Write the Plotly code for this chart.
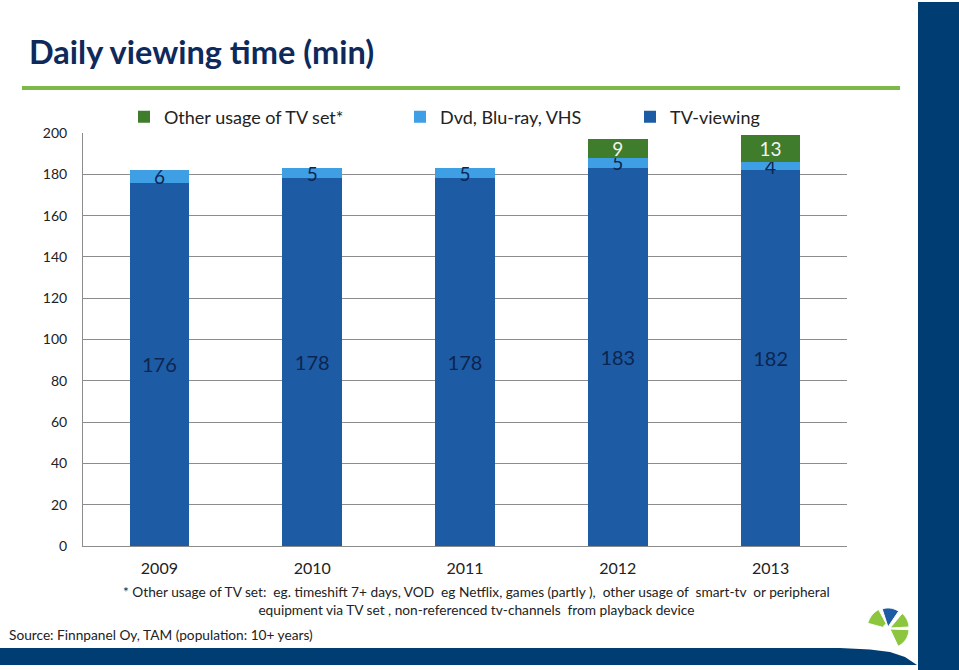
import math
import plotly.graph_objects as go

years = ["2009", "2010", "2011", "2012", "2013"]
tv_viewing = [176, 178, 178, 183, 182]
dvd = [6, 5, 5, 5, 4]
other = [0, 0, 0, 9, 13]
other_labels = ["", "", "", "9", "13"]
y_ticks = [0, 20, 40, 60, 80, 100, 120, 140, 160, 180, 200]

W, H = 959, 670
L, R, T, B = 83, 847, 133, 546
FONT = "Lato"


def px(x):
    return (x - L) / (R - L)


def py(y):
    return (B - y) / (B - T)


def poly(points):
    s = "M " + " L ".join(f"{px(x):.5f},{py(y):.5f}" for x, y in points) + " Z"
    return s


def sector(cx, cy, r0, r1, a0, a1, n=16):
    pts = []
    for i in range(n + 1):
        a = math.radians(a0 + (a1 - a0) * i / n)
        pts.append((cx + r1 * math.cos(a), cy - r1 * math.sin(a)))
    for i in range(n + 1):
        a = math.radians(a1 - (a1 - a0) * i / n)
        pts.append((cx + r0 * math.cos(a), cy - r0 * math.sin(a)))
    return poly(pts)


fig = go.Figure()
fig.add_trace(go.Bar(
    x=years, y=tv_viewing, name="TV-viewing", legend="legend3",
    marker=dict(color="#1d5ca4", line=dict(width=0)),
    text=[str(v) for v in tv_viewing], textposition="inside",
    insidetextanchor="middle", constraintext="none", textangle=0,
    textfont=dict(family=FONT, size=20, color="#0d2550"),
))
fig.add_trace(go.Bar(
    x=years, y=dvd, name="Dvd, Blu-ray, VHS", legend="legend2",
    marker=dict(color="#3f9fe4", line=dict(width=0)),
    text=[str(v) for v in dvd], textposition="inside",
    insidetextanchor="middle", constraintext="none", textangle=0,
    textfont=dict(family=FONT, size=19, color="#0d2550"),
))
fig.add_trace(go.Bar(
    x=years, y=other, name="Other usage of TV set*", legend="legend",
    marker=dict(color="#3f7c2c", line=dict(width=0)),
    text=other_labels, textposition="inside",
    insidetextanchor="middle", constraintext="none", textangle=0,
    textfont=dict(family=FONT, size=19, color="#f2f2f2"),
))

leg_common = dict(orientation="h", yanchor="middle", y=py(117), xanchor="left",
                  font=dict(family=FONT, size=18, color="#222222"),
                  bgcolor="rgba(0,0,0,0)", itemwidth=30)

shapes = [
    dict(type="line", xref="paper", yref="paper", x0=px(22), x1=px(900), y0=py(88), y1=py(88),
         line=dict(color="#7cb84a", width=4)),
    dict(type="rect", xref="paper", yref="paper", x0=px(918), x1=px(960), y0=py(672), y1=py(2),
         fillcolor="#003d73", line=dict(width=0), layer="below"),
    dict(type="path", xref="paper", yref="paper",
         path=poly([(0, 648), (840, 648), (870, 649.5), (890, 652), (905, 657), (917, 665), (0, 665)]),
         fillcolor="#003d73", line=dict(width=0), layer="below"),
    # logo
    dict(type="path", xref="paper", yref="paper", path=sector(888, 627, 0, 19, 56, 108),
         fillcolor="#1d5ca4", line=dict(color="white", width=1)),
    dict(type="path", xref="paper", yref="paper", path=sector(890, 628, 0, 19, 3, 50),
         fillcolor="#8cc63f", line=dict(color="white", width=1)),
    dict(type="path", xref="paper", yref="paper", path=sector(890, 629, 0, 19, -65, -2),
         fillcolor="#8cc63f", line=dict(color="white", width=1)),
    dict(type="path", xref="paper", yref="paper", path=sector(889, 629, 6, 22, 118, 165),
         fillcolor="#8cc63f", line=dict(color="white", width=1)),
]

annotations = [
    dict(text="<b>Daily viewing time (min)</b>", xref="paper", yref="paper",
         x=px(27), y=py(52), xanchor="left", yanchor="middle", showarrow=False,
         font=dict(family=FONT, size=32.5, color="#0e2a5c")),
    dict(text="* Other usage of TV set:  eg. timeshift 7+ days, VOD  eg Netflix, games (partly ),  other usage of  smart-tv  or peripheral<br>equipment via TV set , non-referenced tv-channels  from playback device",
         xref="paper", yref="paper", x=px(476), y=py(600), xanchor="center", yanchor="middle",
         showarrow=False, align="center",
         font=dict(family=FONT, size=13.7, color="#222222")),
    dict(text="Source: Finnpanel Oy, TAM (population: 10+ years)", xref="paper", yref="paper",
         x=px(7), y=py(634), xanchor="left", yanchor="middle", showarrow=False,
         font=dict(family=FONT, size=13.7, color="#222222")),
]

fig.update_layout(
    width=W, height=H,
    margin=dict(l=L, r=W - R, t=T, b=H - B, pad=0),
    paper_bgcolor="white", plot_bgcolor="white",
    barmode="stack", bargap=0.61,
    showlegend=True,
    font=dict(family=FONT, size=13, color="#222222"),
    legend=dict(leg_common, x=px(124)),
    legend2=dict(leg_common, x=px(400)),
    legend3=dict(leg_common, x=px(630)),
    shapes=shapes, annotations=annotations,
    xaxis=dict(showgrid=False, showline=True, linecolor="#8c8c8c", linewidth=1,
               tickfont=dict(family=FONT, size=16, color="#222222"), ticks="",
               ticklabelstandoff=8),
    yaxis=dict(range=[0, 200], tickvals=y_ticks, showgrid=True, gridcolor="#8c8c8c",
               gridwidth=1, showline=True, linecolor="#8c8c8c", zeroline=False,
               tickfont=dict(family=FONT, size=14, color="#222222"), ticks="",
               ticklabelstandoff=12),
)

fig.write_html("out.html", config={"displayModeBar": False},
               post_script="document.body.style.margin='0';")
